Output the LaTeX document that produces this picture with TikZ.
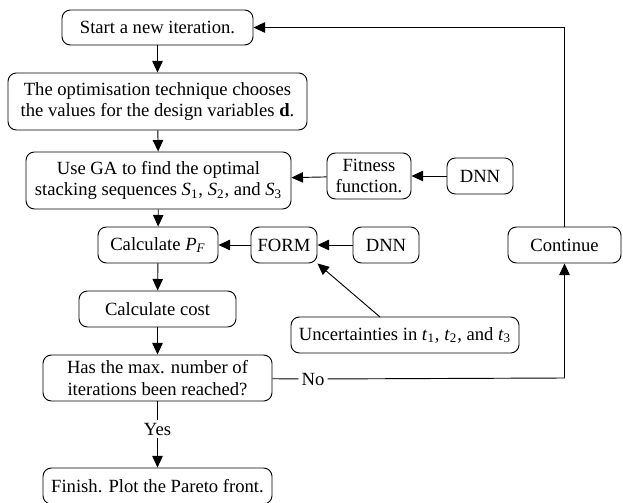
\documentclass[tikz,border=0pt]{standalone}
\usepackage{fontspec}
\setmainfont{Liberation Serif}
\usetikzlibrary{arrows.meta}
\newcommand{\pxu}{0.537pt}
\newcommand{\vsym}[2]{\textit{#1}\textsubscript{#2}}
\begin{document}
\begin{tikzpicture}[x=\pxu, y=-\pxu,
  box/.style={draw, rounded corners=4.5pt, line width=0.5pt, align=center,
    inner sep=0pt, font=\fontsize{10}{11.5}\selectfont},
  flow/.style={line width=0.5pt, -{Triangle[length=6.2pt,width=5.6pt]}},
  plain/.style={line width=0.5pt}]
\useasboundingbox (0,0) rectangle (623,503);

\node[box, minimum width=191*\pxu, minimum height=35*\pxu] (start) at (157.5,27.5) {Start a new iteration.};
\node[box, minimum width=299*\pxu, minimum height=57*\pxu] (opt) at (157.5,101.5)
  {The optimisation technique chooses\\the values for the design variables \textbf{d}.};
\node[box, minimum width=265*\pxu, minimum height=57*\pxu] (ga) at (158.5,180.5)
  {Use GA to find the optimal\\stacking sequences \vsym{S}{1}, \vsym{S}{2}, and \vsym{S}{3}};
\node[box, minimum width=84*\pxu, minimum height=46*\pxu] (fit) at (369,176) {Fitness\\function.};
\node[box, minimum width=66*\pxu, minimum height=36*\pxu] (dnna) at (480,176) {DNN};
\node[box, minimum width=120*\pxu, minimum height=36*\pxu] (pf) at (158,245)
  {Calculate \textit{P}\textsubscript{\textit{F}}};
\node[box, minimum width=66*\pxu, minimum height=36*\pxu] (form) at (284,245) {FORM};
\node[box, minimum width=66*\pxu, minimum height=36*\pxu] (dnnb) at (386,245) {DNN};
\node[box, minimum width=113*\pxu, minimum height=36*\pxu] (cont) at (564.5,245) {Continue};
\node[box, minimum width=228*\pxu, minimum height=36*\pxu] (unc) at (405,335)
  {Uncertainties in \vsym{t}{1}, \vsym{t}{2}, and \vsym{t}{3}};
\node[box, minimum width=157*\pxu, minimum height=36*\pxu] (cost) at (157.5,309) {Calculate cost};
\node[box, minimum width=229*\pxu, minimum height=46*\pxu] (max) at (157.5,378)
  {Has the max. number of\\iterations been reached?};
\node[box, minimum width=229*\pxu, minimum height=36*\pxu] (fin) at (157.5,486)
  {Finish. Plot the Pareto front.};

\node[font=\fontsize{10}{11.5}\selectfont, inner sep=1.5pt] (no) at (313,379) {No};
\node[font=\fontsize{10}{11.5}\selectfont, inner sep=1.5pt] (yes) at (157.5,429) {Yes};
\coordinate (corner) at (567,378);
\coordinate (uncTop) at (380,317);

% main chain
\draw[flow] (start) -- (opt);
\draw[flow] (opt) -- (ga);
\draw[flow] (ga) -- (pf);
\draw[flow] (pf) -- (cost);
\draw[flow] (cost) -- (max);
\draw[plain] (max) -- (yes);
\draw[flow] (yes) -- (fin);

% side inputs
\draw[flow] (fit) -- (ga);
\draw[flow] (dnna) -- (fit);
\draw[flow] (form) -- (pf);
\draw[flow] (dnnb) -- (form);
\draw[flow] (uncTop) -- (form.south east);

% loop back
\draw[plain] (max) -- (no);
\draw[flow] (no) -- (corner -| cont) -- (cont);
\draw[flow] (cont.north) |- (start);
\end{tikzpicture}
\end{document}
